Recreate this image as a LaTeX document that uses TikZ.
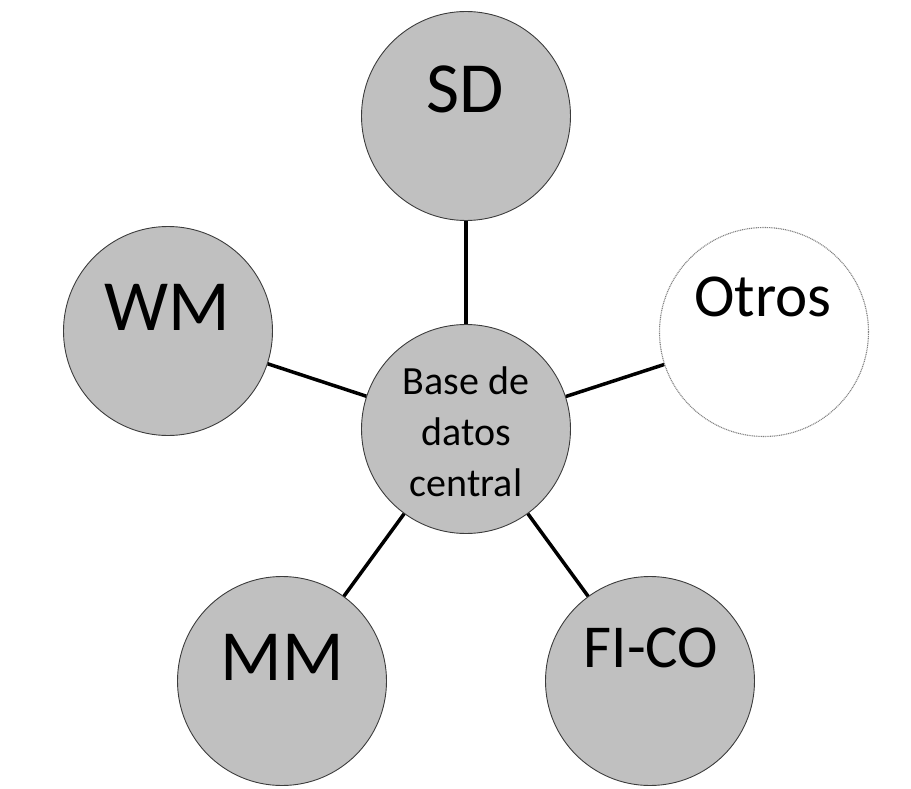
\documentclass[tikz,border=0pt]{standalone}
\usepackage{fontspec}
\setmainfont{Carlito}
\definecolor{circfill}{RGB}{192,192,192}
\definecolor{circline}{RGB}{60,60,60}
\tikzset{
  bubble/.style={circle, minimum size=209pt, inner sep=0pt, fill=circfill, draw=circline, line width=0.9pt},
  otherbubble/.style={circle, minimum size=209pt, inner sep=0pt, fill=white, draw=gray, line width=1.1pt, dash pattern=on 1pt off 0.8pt},
  link/.style={line width=3.5pt, black},
  bigtxt/.style={anchor=base, inner sep=0pt, font=\fontsize{72}{80}\selectfont},
  midtxt/.style={anchor=base, inner sep=0pt, font=\fontsize{61}{70}\selectfont},
  centertxt/.style={inner sep=0pt, align=center, font=\fontsize{40}{51}\selectfont}
}
\begin{document}
\begin{tikzpicture}[x=1pt, y=-1pt]
\useasboundingbox (0,0) rectangle (911,789);
\node[bubble] (sd) at (466,116) {};
\node[bubble] (wm) at (168,331) {};
\node[otherbubble] (ot) at (764,332) {};
\node[bubble] (c) at (466,429) {};
\node[bubble] (mm) at (282,681) {};
\node[bubble] (fc) at (650,681) {};
\draw[link] (c) -- (sd);
\draw[link] (c) -- (wm);
\draw[link] (c) -- (ot);
\draw[link] (c) -- (mm);
\draw[link] (c) -- (fc);
\node[bigtxt] (sdt) at (465,113) {SD};
\node[bigtxt] (wmt) at (167,330) {WM};
\node[midtxt] (ott) at (763,316) {Otros};
\node[bigtxt] (mmt) at (282,680) {MM};
\node[midtxt] (fct) at (651,667) {FI-CO};
\node[centertxt] (ct) at (466,432) {Base de\\datos\\central};
\end{tikzpicture}
\end{document}
